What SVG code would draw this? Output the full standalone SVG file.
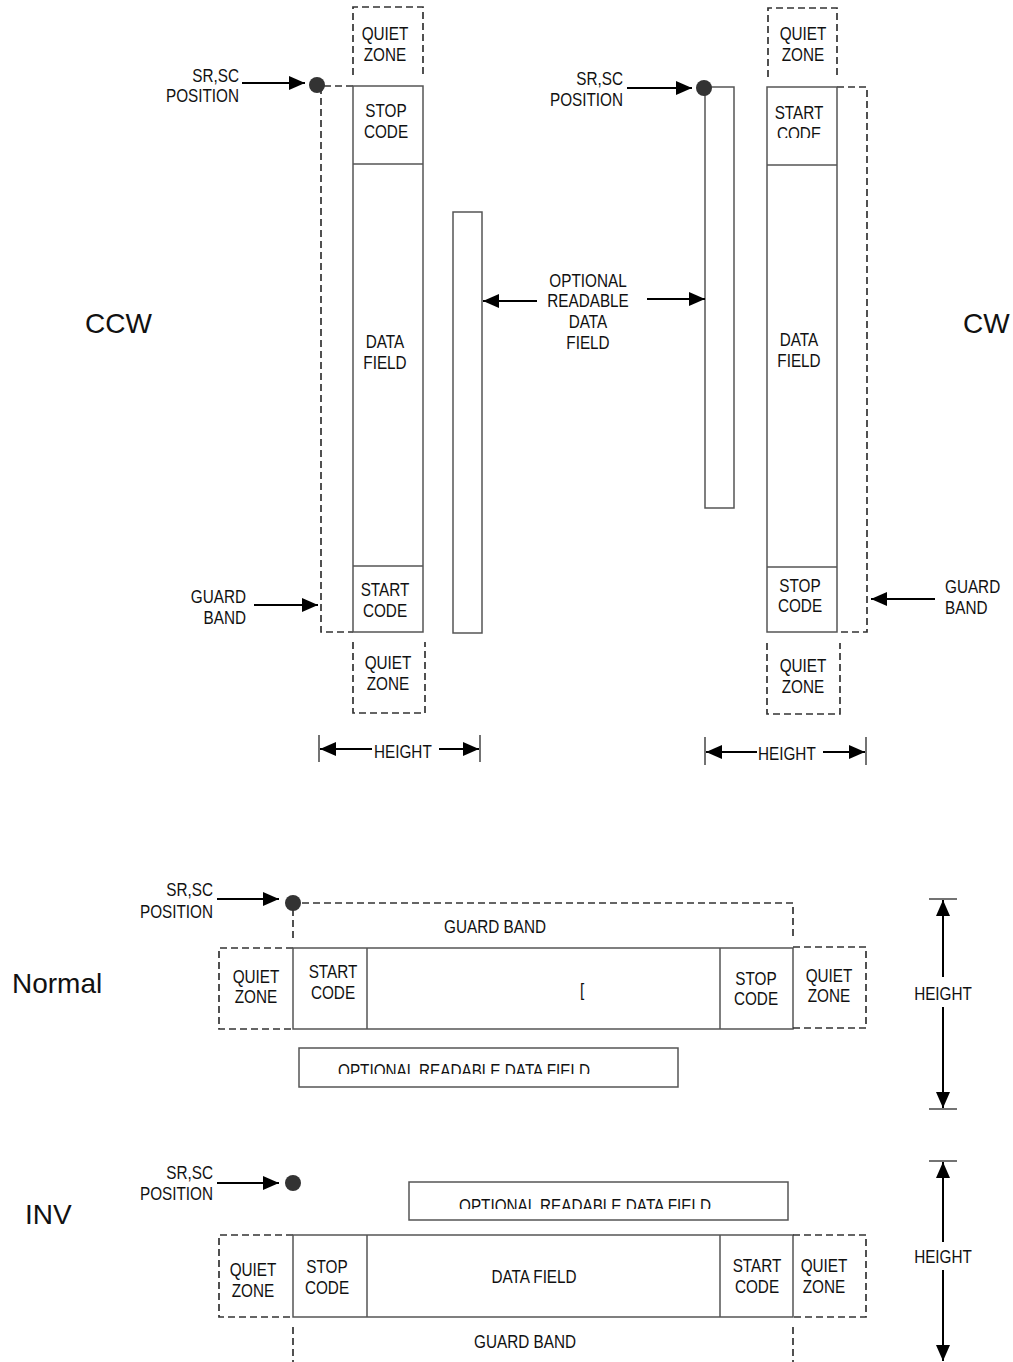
<svg xmlns="http://www.w3.org/2000/svg" width="1013" height="1362" viewBox="0 0 1013 1362">
<style>
.box{fill:none;stroke:#555;stroke-width:1.5}
.dash{fill:none;stroke:#333;stroke-width:1.7;stroke-dasharray:7 4}
.t{font-family:"Liberation Sans",Arial,sans-serif;font-size:18px;fill:#111}
.m{text-anchor:middle}
.e{text-anchor:end}
.big{font-family:"Liberation Sans",Arial,sans-serif;font-size:28px;fill:#111}
.ar{stroke:#000;stroke-width:2;fill:none;marker-end:url(#ah)}
.tick{stroke:#444;stroke-width:1.5}
.dot{fill:#333}
</style>
<defs>
<marker id="ah" markerUnits="userSpaceOnUse" markerWidth="18" markerHeight="14" refX="16" refY="7" orient="auto">
<path d="M0,0 L16,7 L0,14 z" fill="#000"/>
</marker>
<clipPath id="cwcode"><rect x="760" y="90" width="80" height="48"/></clipPath>
<clipPath id="nord"><rect x="300" y="1049" width="377" height="25"/></clipPath>
<clipPath id="invrd"><rect x="410" y="1183" width="377" height="26"/></clipPath>
</defs>

<text class="big" x="85" y="333">CCW</text>
<text class="big" x="963" y="333">CW</text>
<text class="big" x="12" y="993">Normal</text>
<text class="big" x="25" y="1224">INV</text>

<g id="ccw">
<path class="dash" d="M353,75 V7 H423 V75"/>
<text class="t m" transform="translate(385,40) scale(0.85,1)">QUIET</text>
<text class="t m" transform="translate(385,61) scale(0.85,1)">ZONE</text>
<path class="dash" d="M353,86 H321 V632 H353"/>
<rect class="box" x="353" y="86" width="70" height="546"/>
<line class="box" x1="353" y1="164" x2="423" y2="164"/>
<line class="box" x1="353" y1="566" x2="423" y2="566"/>
<text class="t m" transform="translate(386,117) scale(0.85,1)">STOP</text>
<text class="t m" transform="translate(386,138) scale(0.85,1)">CODE</text>
<text class="t m" transform="translate(385,348) scale(0.85,1)">DATA</text>
<text class="t m" transform="translate(385,369) scale(0.85,1)">FIELD</text>
<text class="t m" transform="translate(385,596) scale(0.85,1)">START</text>
<text class="t m" transform="translate(385,617) scale(0.85,1)">CODE</text>
<path class="dash" d="M353,642 V713 H425 V642"/>
<text class="t m" transform="translate(388,669) scale(0.85,1)">QUIET</text>
<text class="t m" transform="translate(388,690) scale(0.85,1)">ZONE</text>
<circle class="dot" cx="317" cy="85" r="8"/>
<text class="t e" transform="translate(239,82) scale(0.85,1)">SR,SC</text>
<text class="t e" transform="translate(239,102) scale(0.85,1)">POSITION</text>
<text class="t e" transform="translate(246,603) scale(0.85,1)">GUARD</text>
<text class="t e" transform="translate(246,624) scale(0.85,1)">BAND</text>
<line class="tick" x1="319" y1="735" x2="319" y2="762"/>
<line class="tick" x1="480" y1="735" x2="480" y2="762"/>
<text class="t" transform="translate(374,758) scale(0.85,1)">HEIGHT</text>
</g>

<g id="ccw-readable">
<rect class="box" x="453" y="212" width="29" height="421"/>
</g>

<g id="readable-label">
<text class="t m" transform="translate(588,287) scale(0.85,1)">OPTIONAL</text>
<text class="t m" transform="translate(588,307) scale(0.85,1)">READABLE</text>
<text class="t m" transform="translate(588,328) scale(0.85,1)">DATA</text>
<text class="t m" transform="translate(588,349) scale(0.85,1)">FIELD</text>
</g>

<g id="cw">
<path class="dash" d="M768,77 V8 H837 V77"/>
<text class="t m" transform="translate(803,40) scale(0.85,1)">QUIET</text>
<text class="t m" transform="translate(803,61) scale(0.85,1)">ZONE</text>
<rect class="box" x="705" y="87" width="29" height="421"/>
<path class="dash" d="M837,87 H867 V632 H837"/>
<rect class="box" x="767" y="87" width="70" height="545"/>
<line class="box" x1="767" y1="165" x2="837" y2="165"/>
<line class="box" x1="767" y1="567" x2="837" y2="567"/>
<text class="t m" transform="translate(799,119) scale(0.85,1)">START</text>
<g clip-path="url(#cwcode)"><text class="t m" transform="translate(799,140) scale(0.85,1)">CODE</text></g>
<text class="t m" transform="translate(799,346) scale(0.85,1)">DATA</text>
<text class="t m" transform="translate(799,367) scale(0.85,1)">FIELD</text>
<text class="t m" transform="translate(800,592) scale(0.85,1)">STOP</text>
<text class="t m" transform="translate(800,612) scale(0.85,1)">CODE</text>
<path class="dash" d="M767,643 V714 H840 V643"/>
<text class="t m" transform="translate(803,672) scale(0.85,1)">QUIET</text>
<text class="t m" transform="translate(803,693) scale(0.85,1)">ZONE</text>
<circle class="dot" cx="704" cy="88" r="8"/>
<text class="t e" transform="translate(623,85) scale(0.85,1)">SR,SC</text>
<text class="t e" transform="translate(623,106) scale(0.85,1)">POSITION</text>
<text class="t" transform="translate(945,593) scale(0.85,1)">GUARD</text>
<text class="t" transform="translate(945,614) scale(0.85,1)">BAND</text>
<line class="tick" x1="705" y1="737" x2="705" y2="765"/>
<line class="tick" x1="866" y1="737" x2="866" y2="765"/>
<text class="t" transform="translate(758,760) scale(0.85,1)">HEIGHT</text>
</g>

<g id="normal">
<path class="dash" d="M293,938 V903 H793 V938"/>
<text class="t m" transform="translate(495,933) scale(0.85,1)">GUARD BAND</text>
<path class="dash" d="M293,948 H219 V1029 H293"/>
<rect class="box" x="293" y="948" width="500" height="81"/>
<line class="box" x1="367" y1="948" x2="367" y2="1029"/>
<line class="box" x1="720" y1="948" x2="720" y2="1029"/>
<path class="dash" d="M793,947 H866 V1028 H793"/>
<text class="t m" transform="translate(256,983) scale(0.85,1)">QUIET</text>
<text class="t m" transform="translate(256,1003) scale(0.85,1)">ZONE</text>
<text class="t m" transform="translate(333,978) scale(0.85,1)">START</text>
<text class="t m" transform="translate(333,999) scale(0.85,1)">CODE</text>
<text class="t" transform="translate(580,996) scale(0.85,1)">[</text>
<text class="t m" transform="translate(756,985) scale(0.85,1)">STOP</text>
<text class="t m" transform="translate(756,1005) scale(0.85,1)">CODE</text>
<text class="t m" transform="translate(829,982) scale(0.85,1)">QUIET</text>
<text class="t m" transform="translate(829,1002) scale(0.85,1)">ZONE</text>
<rect class="box" x="299" y="1048" width="379" height="39"/>
<g clip-path="url(#nord)"><text class="t m" transform="translate(464,1077) scale(0.85,1)">OPTIONAL READABLE DATA FIELD</text></g>
<circle class="dot" cx="293" cy="903" r="8"/>
<text class="t e" transform="translate(213,896) scale(0.85,1)">SR,SC</text>
<text class="t e" transform="translate(213,918) scale(0.85,1)">POSITION</text>
<line class="tick" x1="929" y1="899" x2="957" y2="899"/>
<line class="tick" x1="929" y1="1109" x2="957" y2="1109"/>
<text class="t m" transform="translate(943,1000) scale(0.85,1)">HEIGHT</text>
</g>

<g id="inv">
<rect class="box" x="409" y="1182" width="379" height="38"/>
<g clip-path="url(#invrd)"><text class="t m" transform="translate(585,1212) scale(0.85,1)">OPTIONAL READABLE DATA FIELD</text></g>
<path class="dash" d="M293,1235 H219 V1317 H293"/>
<rect class="box" x="293" y="1235" width="500" height="82"/>
<line class="box" x1="367" y1="1235" x2="367" y2="1317"/>
<line class="box" x1="720" y1="1235" x2="720" y2="1317"/>
<path class="dash" d="M793,1235 H866 V1317 H793"/>
<text class="t m" transform="translate(253,1276) scale(0.85,1)">QUIET</text>
<text class="t m" transform="translate(253,1297) scale(0.85,1)">ZONE</text>
<text class="t m" transform="translate(327,1273) scale(0.85,1)">STOP</text>
<text class="t m" transform="translate(327,1294) scale(0.85,1)">CODE</text>
<text class="t m" transform="translate(534,1283) scale(0.85,1)">DATA FIELD</text>
<text class="t m" transform="translate(757,1272) scale(0.85,1)">START</text>
<text class="t m" transform="translate(757,1293) scale(0.85,1)">CODE</text>
<text class="t m" transform="translate(824,1272) scale(0.85,1)">QUIET</text>
<text class="t m" transform="translate(824,1293) scale(0.85,1)">ZONE</text>
<path class="dash" d="M293,1327 V1362 M793,1327 V1362"/>
<text class="t m" transform="translate(525,1348) scale(0.85,1)">GUARD BAND</text>
<circle class="dot" cx="293" cy="1183" r="8"/>
<text class="t e" transform="translate(213,1179) scale(0.85,1)">SR,SC</text>
<text class="t e" transform="translate(213,1200) scale(0.85,1)">POSITION</text>
<line class="tick" x1="929" y1="1161" x2="957" y2="1161"/>
<text class="t m" transform="translate(943,1263) scale(0.85,1)">HEIGHT</text>
</g>

<g id="connectors">
<line class="ar" x1="242" y1="83" x2="305" y2="83"/>
<line class="ar" x1="254" y1="605" x2="318" y2="605"/>
<line class="ar" x1="372" y1="749" x2="320" y2="749"/>
<line class="ar" x1="439" y1="749" x2="479" y2="749"/>
<line class="ar" x1="537" y1="301" x2="483" y2="301"/>
<line class="ar" x1="647" y1="299" x2="705" y2="299"/>
<line class="ar" x1="627" y1="88" x2="692" y2="88"/>
<line class="ar" x1="935" y1="599" x2="871" y2="599"/>
<line class="ar" x1="757" y1="752" x2="706" y2="752"/>
<line class="ar" x1="823" y1="752" x2="865" y2="752"/>
<line class="ar" x1="217" y1="899" x2="279" y2="899"/>
<line class="ar" x1="943" y1="977" x2="943" y2="900"/>
<line class="ar" x1="943" y1="1007" x2="943" y2="1108"/>
<line class="ar" x1="217" y1="1183" x2="279" y2="1183"/>
<line class="ar" x1="943" y1="1242" x2="943" y2="1162"/>
<line class="ar" x1="943" y1="1270" x2="943" y2="1361"/>
</g>
</svg>
